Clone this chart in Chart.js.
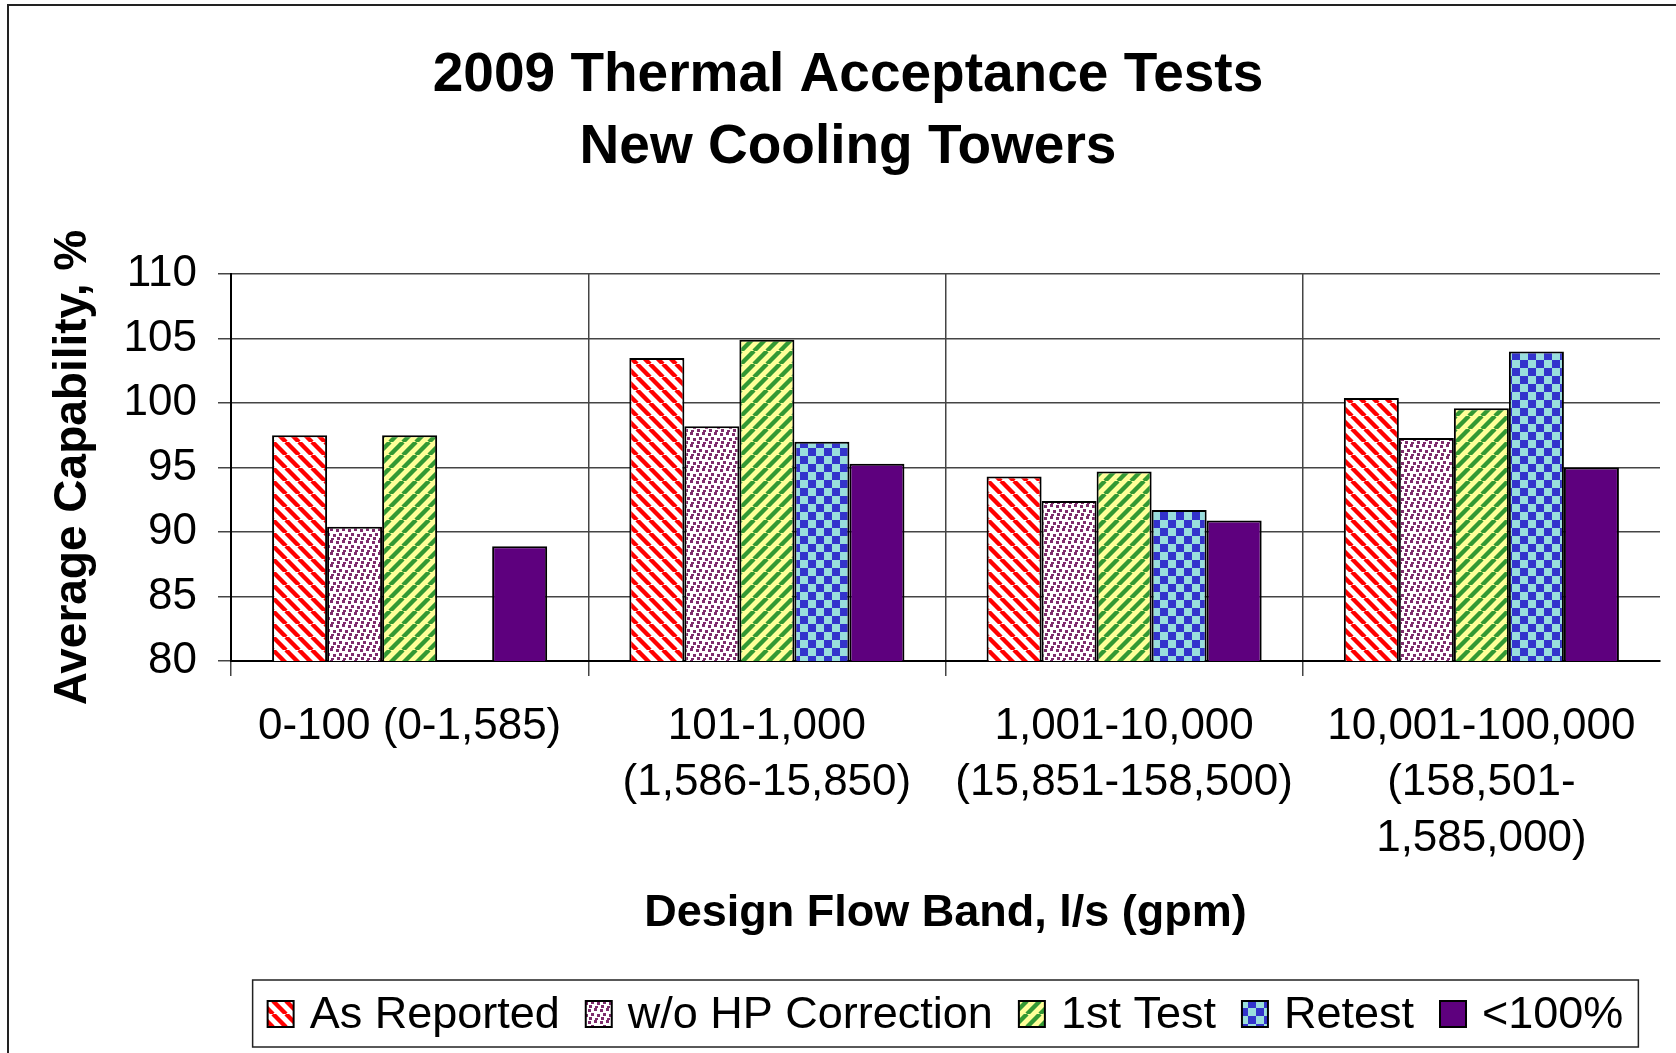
<!DOCTYPE html>
<html>
<head>
<meta charset="utf-8">
<title>2009 Thermal Acceptance Tests</title>
<script src="https://cdn.jsdelivr.net/npm/chart.js@4.4.0/dist/chart.umd.min.js"></script>
<style>
  html, body { margin: 0; padding: 0; background: #fff; }
  #wrap { width: 1676px; height: 1053px; position: relative; }
</style>
</head>
<body>
<div id="wrap"><canvas id="chart"></canvas></div>
<script>
// Data
const categories = [
    '0-100 (0-1,585)',
    ['101-1,000', '(1,586-15,850)'],
    ['1,001-10,000', '(15,851-158,500)'],
    ['10,001-100,000', '(158,501-', '1,585,000)']
];
const seriesNames = ['As Reported', 'w/o HP Correction', '1st Test', 'Retest', '<100%'];
const asReported = [97.5, 103.5, 94.3, 100.4];
const withoutHp = [90.4, 98.2, 92.4, 97.3];
const firstTest = [97.5, 104.9, 94.7, 99.6];
const retest = [null, 97.0, 91.7, 104.0];
const below100 = [88.9, 95.3, 90.9, 95.0];
const yTicks = [80, 85, 90, 95, 100, 105, 110];

const FONT = "'Liberation Sans', Arial, sans-serif";

// Fill patterns
function makeTile(size, draw) {
    const c = document.createElement('canvas');
    c.width = size;
    c.height = size;
    const g = c.getContext('2d');
    draw(g, size);
    return g.createPattern(c, 'repeat');
}

function stripes(bg, fg, backslash) {
    return makeTile(13, (g, s) => {
        g.fillStyle = bg;
        g.fillRect(0, 0, s, s);
        g.strokeStyle = fg;
        g.lineWidth = 4.4;
        for (let k = -1; k <= 1; k++) {
            g.beginPath();
            if (backslash) {
                g.moveTo(k * s, 0);
                g.lineTo(k * s + s, s);
            } else {
                g.moveTo(k * s, s);
                g.lineTo(k * s + s, 0);
            }
            g.stroke();
        }
    });
}

const redStripes = stripes('#ffffff', '#ff0000', true);
const greenStripes = stripes('#ffff99', '#339933', false);
const purpleDots = makeTile(12, (g, s) => {
    g.fillStyle = '#ffffff';
    g.fillRect(0, 0, s, s);
    g.fillStyle = '#7e2c6c';
    [[0, 1], [6, 0], [3, 5], [9, 6], [1, 9], [7, 10]].forEach(([x, y]) => g.fillRect(x, y, 3, 3));
});
const checker = makeTile(16, (g, s) => {
    g.fillStyle = '#3333cc';
    g.fillRect(0, 0, s, s);
    g.fillStyle = '#99dddd';
    g.fillRect(0, 0, s / 2, s / 2);
    g.fillRect(s / 2, s / 2, s / 2, s / 2);
});
const solidPurple = '#5e007e';

const fills = [redStripes, purpleDots, greenStripes, checker, solidPurple];
const values = [asReported, withoutHp, firstTest, retest, below100];

// Outer frame + white background
const framePlugin = {
    id: 'frame',
    beforeDraw(chart) {
        const ctx = chart.ctx;
        ctx.save();
        ctx.fillStyle = '#fff';
        ctx.fillRect(0, 0, chart.width, chart.height);
        ctx.strokeStyle = '#222';
        ctx.lineWidth = 2;
        ctx.beginPath();
        ctx.moveTo(8, chart.height);
        ctx.lineTo(8, 5);
        ctx.lineTo(chart.width, 5);
        ctx.stroke();
        ctx.restore();
    }
};

// Legend drawn in a framed box under the x title
const boxLegend = {
    id: 'boxLegend',
    afterDraw(chart) {
        const ctx = chart.ctx;
        const area = chart.chartArea;
        const box = 26, gapIn = 16, gapOut = 26, pad = 15;
        const cy = 1014;
        ctx.save();
        ctx.font = '45px ' + FONT;
        const widths = chart.data.datasets.map(ds => ctx.measureText(ds.label).width);
        const total = widths.reduce((a, w) => a + box + gapIn + w, 0) + gapOut * (widths.length - 1);
        const left = (area.left + area.right) / 2 - total / 2 - pad;
        ctx.strokeStyle = '#222';
        ctx.lineWidth = 1.5;
        ctx.strokeRect(left, 980, total + pad * 2, 67);
        let x = left + pad;
        ctx.textBaseline = 'middle';
        chart.data.datasets.forEach((ds, i) => {
            ctx.fillStyle = ds.backgroundColor;
            ctx.fillRect(x, cy - box / 2, box, box);
            ctx.strokeStyle = '#000';
            ctx.lineWidth = 2;
            ctx.strokeRect(x, cy - box / 2, box, box);
            ctx.fillStyle = '#000';
            ctx.fillText(ds.label, x + box + gapIn, cy + 2);
            x += box + gapIn + widths[i] + gapOut;
        });
        ctx.restore();
    }
};

new Chart(document.getElementById('chart'), {
    type: 'bar',
    data: {
        labels: categories,
        datasets: seriesNames.map((name, i) => ({
            label: name,
            data: values[i],
            backgroundColor: fills[i],
            borderColor: '#000',
            borderWidth: 2,
            borderSkipped: false,
            categoryPercentage: 0.77,
            barPercentage: 1.0
        }))
    },
    options: {
        responsive: true,
        maintainAspectRatio: false,
        animation: false,
        layout: { padding: { left: 36, right: 16, top: 0, bottom: 93 } },
        plugins: {
            legend: { display: false },
            tooltip: { enabled: false },
            title: {
                display: true,
                text: ['2009 Thermal Acceptance Tests', 'New Cooling Towers'],
                color: '#000',
                font: { family: FONT, size: 55, weight: 'bold', lineHeight: 1.31 },
                padding: { top: 40, bottom: 90 }
            }
        },
        scales: {
            x: {
                afterFit: s => { s.height = 299; },
                grid: {
                    offset: true,
                    // no line on the right edge of the plot
                    color: ctx => ctx.type === 'tick' ? '#444' : 'rgba(0,0,0,0)',
                    lineWidth: 1.5,
                    tickLength: 15
                },
                border: { display: true, color: '#000', width: 2 },
                ticks: {
                    color: '#000',
                    font: { family: FONT, size: 44, lineHeight: 1.27 },
                    padding: 23,
                    maxRotation: 0,
                    autoSkip: false
                },
                title: {
                    display: true,
                    text: 'Design Flow Band, l/s (gpm)',
                    color: '#000',
                    font: { family: FONT, size: 45, weight: 'bold', lineHeight: 1.2 },
                    padding: { top: 0, bottom: 19 }
                }
            },
            y: {
                min: yTicks[0],
                max: yTicks[yTicks.length - 1],
                afterFit: s => { s.width = 195; },
                afterBuildTicks: s => { s.ticks = yTicks.map(v => ({ value: v })); },
                grid: { color: '#444', lineWidth: 1.5, tickLength: 13 },
                border: { display: true, color: '#000', width: 2 },
                ticks: {
                    color: '#000',
                    font: { family: FONT, size: 44 },
                    padding: 21
                },
                title: {
                    display: true,
                    text: 'Average Capability, %',
                    color: '#000',
                    font: { family: FONT, size: 46, weight: 'bold', lineHeight: 1.2 },
                    padding: { top: 10, bottom: 0 }
                }
            }
        }
    },
    plugins: [framePlugin, boxLegend]
});
</script>
</body>
</html>
